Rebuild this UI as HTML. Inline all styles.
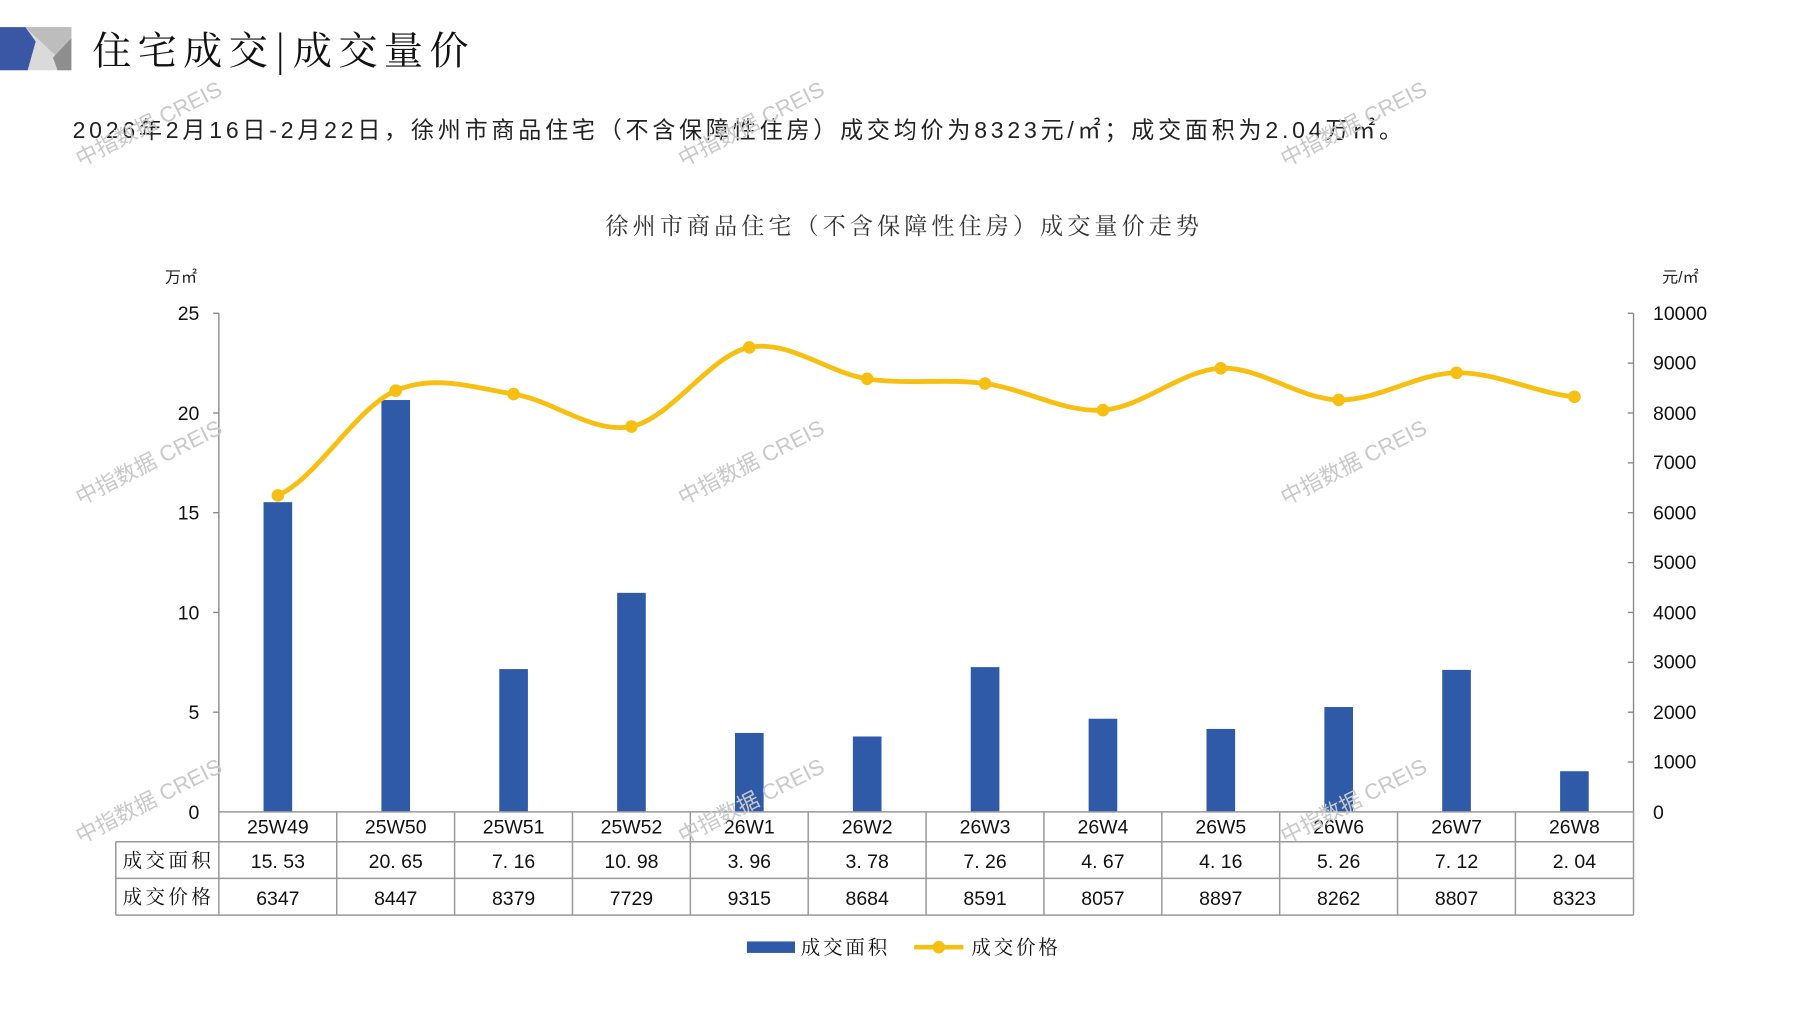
<!DOCTYPE html>
<html><head><meta charset="utf-8"><style>
html,body{margin:0;padding:0;background:#fff;}
svg{display:block;}
text{font-family:"Liberation Sans","Noto Sans CJK SC",sans-serif;}
.s{font-family:"Noto Serif CJK SC","Noto Sans CJK SC",serif;}
.wm{font-family:"Liberation Sans","Noto Sans CJK SC",sans-serif;fill:#c8c8c8;font-size:19px;}
</style></head><body>
<svg width="1797" height="1010" viewBox="0 0 1560 877" preserveAspectRatio="none" xmlns="http://www.w3.org/2000/svg">
<rect width="1560" height="877" fill="#fff"/>
<!-- logo -->
<rect x="0" y="23.5" width="62" height="37.5" fill="#dadada"/>
<polygon points="22,23.5 62,23.5 62,33 48,48" fill="#bdbdbd"/>
<polygon points="62,33 62,61 50,61 46,50" fill="#8e8e8e"/>
<polygon points="0,23.5 22,23.5 31,36 24,61 0,61" fill="#3a57a6"/>
<text x="80" y="56" class="s" font-size="34" fill="#111" letter-spacing="5.5">住宅成交|成交量价</text>
<text x="63" y="120" font-size="20" fill="#222" letter-spacing="3.3">2026年2月16日-2月22日，徐州市商品住宅（不含保障性住房）成交均价为8323元/㎡；成交面积为2.04万㎡。</text>
<text x="785" y="203" class="s" font-size="20" fill="#333" text-anchor="middle" letter-spacing="3.6">徐州市商品住宅（不含保障性住房）成交量价走势</text>
<g transform="translate(190,272) scale(0.9944,0.9954) translate(-190,-272)">
<text x="143" y="245" font-size="14" fill="#222">万㎡</text>
<text x="1450" y="245" font-size="14" fill="#222">元/㎡</text>
<!-- axes -->
<g stroke="#888" stroke-width="1.2" fill="none">
<line x1="190" y1="272" x2="190" y2="707"/>
<line x1="1425" y1="272" x2="1425" y2="707"/>
<line x1="185" y1="272" x2="190" y2="272"/><line x1="185" y1="359" x2="190" y2="359"/><line x1="185" y1="446" x2="190" y2="446"/><line x1="185" y1="533" x2="190" y2="533"/><line x1="185" y1="620" x2="190" y2="620"/>
<line x1="1420" y1="272" x2="1425" y2="272"/><line x1="1420" y1="315.5" x2="1425" y2="315.5"/><line x1="1420" y1="359" x2="1425" y2="359"/><line x1="1420" y1="402.5" x2="1425" y2="402.5"/><line x1="1420" y1="446" x2="1425" y2="446"/><line x1="1420" y1="489.5" x2="1425" y2="489.5"/><line x1="1420" y1="533" x2="1425" y2="533"/><line x1="1420" y1="576.5" x2="1425" y2="576.5"/><line x1="1420" y1="620" x2="1425" y2="620"/><line x1="1420" y1="663.5" x2="1425" y2="663.5"/>
</g>
<g font-size="17" fill="#111" text-anchor="end">
<text x="173" y="278">25</text><text x="173" y="365">20</text><text x="173" y="452">15</text><text x="173" y="539">10</text><text x="173" y="626">5</text><text x="173" y="713">0</text>
</g>
<g font-size="17" fill="#111">
<text x="1442" y="278">10000</text><text x="1442" y="321">9000</text><text x="1442" y="365">8000</text><text x="1442" y="408">7000</text><text x="1442" y="452">6000</text><text x="1442" y="495">5000</text><text x="1442" y="539">4000</text><text x="1442" y="582">3000</text><text x="1442" y="626">2000</text><text x="1442" y="669">1000</text><text x="1442" y="713">0</text>
</g>
<!-- bars -->
<g fill="#2e5aa8">
<rect x="229" y="436.8" width="25" height="270.2"/>
<rect x="331.9" y="347.7" width="25" height="359.3"/>
<rect x="434.8" y="582.4" width="25" height="124.6"/>
<rect x="537.7" y="515.9" width="25" height="191.1"/>
<rect x="640.6" y="638.1" width="25" height="68.9"/>
<rect x="743.5" y="641.2" width="25" height="65.8"/>
<rect x="846.4" y="580.7" width="25" height="126.3"/>
<rect x="949.3" y="625.7" width="25" height="81.3"/>
<rect x="1052.2" y="634.6" width="25" height="72.4"/>
<rect x="1155.1" y="615.5" width="25" height="91.5"/>
<rect x="1258" y="583.1" width="25" height="123.9"/>
<rect x="1360.9" y="671.5" width="25" height="35.5"/>
</g>
<!-- line -->
<path d="M241.5,430.9 C275.8,415.7 310.1,354.2 344.4,339.5 C378.7,324.8 413,337.3 447.3,342.5 C481.6,347.7 515.9,377.6 550.2,370.8 C584.5,364 618.8,308.7 653.1,301.8 C687.4,294.9 721.7,323.95 756,329.2 C790.3,334.45 824.6,328.75 858.9,333.3 C893.2,337.85 927.5,358.7 961.8,356.5 C996.1,354.3 1030.4,321.5 1064.7,320 C1099,318.5 1133.3,346.95 1167.6,347.6 C1201.9,348.25 1236.2,324.35 1270.5,323.9 C1304.8,323.45 1339.1,341.4 1373.4,344.9" fill="none" stroke="#f7bf12" stroke-width="4.2" stroke-linecap="round"/>
<g fill="#f7bf12">
<circle cx="241.5" cy="430.9" r="5.5"/><circle cx="344.4" cy="339.5" r="5.5"/><circle cx="447.3" cy="342.5" r="5.5"/><circle cx="550.2" cy="370.8" r="5.5"/><circle cx="653.1" cy="301.8" r="5.5"/><circle cx="756" cy="329.2" r="5.5"/><circle cx="858.9" cy="333.3" r="5.5"/><circle cx="961.8" cy="356.5" r="5.5"/><circle cx="1064.7" cy="320" r="5.5"/><circle cx="1167.6" cy="347.6" r="5.5"/><circle cx="1270.5" cy="323.9" r="5.5"/><circle cx="1373.4" cy="344.9" r="5.5"/>
</g>
<!-- table -->
<g stroke="#999" stroke-width="1.3" fill="none">
<line x1="190" y1="707" x2="1425" y2="707"/>
<line x1="100" y1="733" x2="1425" y2="733"/>
<line x1="100" y1="765" x2="1425" y2="765"/>
<line x1="100" y1="797" x2="1425" y2="797"/>
<line x1="100" y1="733" x2="100" y2="797"/>
<line x1="190" y1="707" x2="190" y2="797"/>
<line x1="292.9" y1="707" x2="292.9" y2="797"/><line x1="395.8" y1="707" x2="395.8" y2="797"/><line x1="498.7" y1="707" x2="498.7" y2="797"/><line x1="601.6" y1="707" x2="601.6" y2="797"/><line x1="704.5" y1="707" x2="704.5" y2="797"/><line x1="807.4" y1="707" x2="807.4" y2="797"/><line x1="910.3" y1="707" x2="910.3" y2="797"/><line x1="1013.2" y1="707" x2="1013.2" y2="797"/><line x1="1116.1" y1="707" x2="1116.1" y2="797"/><line x1="1219" y1="707" x2="1219" y2="797"/><line x1="1321.9" y1="707" x2="1321.9" y2="797"/><line x1="1425" y1="707" x2="1425" y2="797"/>
</g>
<g font-size="17" fill="#111" text-anchor="middle">
<text x="241.5" y="726">25W49</text><text x="344.4" y="726">25W50</text><text x="447.3" y="726">25W51</text><text x="550.2" y="726">25W52</text><text x="653.1" y="726">26W1</text><text x="756" y="726">26W2</text><text x="858.9" y="726">26W3</text><text x="961.8" y="726">26W4</text><text x="1064.7" y="726">26W5</text><text x="1167.6" y="726">26W6</text><text x="1270.5" y="726">26W7</text><text x="1373.4" y="726">26W8</text>
<text x="241.5" y="756">15. 53</text><text x="344.4" y="756">20. 65</text><text x="447.3" y="756">7. 16</text><text x="550.2" y="756">10. 98</text><text x="653.1" y="756">3. 96</text><text x="756" y="756">3. 78</text><text x="858.9" y="756">7. 26</text><text x="961.8" y="756">4. 67</text><text x="1064.7" y="756">4. 16</text><text x="1167.6" y="756">5. 26</text><text x="1270.5" y="756">7. 12</text><text x="1373.4" y="756">2. 04</text>
<text x="241.5" y="788">6347</text><text x="344.4" y="788">8447</text><text x="447.3" y="788">8379</text><text x="550.2" y="788">7729</text><text x="653.1" y="788">9315</text><text x="756" y="788">8684</text><text x="858.9" y="788">8591</text><text x="961.8" y="788">8057</text><text x="1064.7" y="788">8897</text><text x="1167.6" y="788">8262</text><text x="1270.5" y="788">8807</text><text x="1373.4" y="788">8323</text>
</g>
<text x="106" y="755" class="s" font-size="17" fill="#111" letter-spacing="3">成交面积</text>
<text x="106" y="787" class="s" font-size="17" fill="#111" letter-spacing="3">成交价格</text>
<!-- legend -->
<rect x="651" y="820" width="42" height="10" fill="#2e5aa8"/>
<text x="698" y="831" class="s" font-size="17" fill="#111" letter-spacing="2.5">成交面积</text>
<line x1="797" y1="825" x2="840" y2="825" stroke="#f7bf12" stroke-width="4"/>
<circle cx="818.5" cy="825" r="5.5" fill="#f7bf12"/>
<text x="847" y="831" class="s" font-size="17" fill="#111" letter-spacing="2.5">成交价格</text>
</g>
<!-- watermarks -->
<g class="wm">
<text transform="translate(70,145) rotate(-27)">中指数据 CREIS</text>
<text transform="translate(593,145) rotate(-27)">中指数据 CREIS</text>
<text transform="translate(1116,145) rotate(-27)">中指数据 CREIS</text>
<text transform="translate(70,439) rotate(-27)">中指数据 CREIS</text>
<text transform="translate(593,439) rotate(-27)">中指数据 CREIS</text>
<text transform="translate(1116,439) rotate(-27)">中指数据 CREIS</text>
<text transform="translate(70,733) rotate(-27)">中指数据 CREIS</text>
<text transform="translate(593,733) rotate(-27)">中指数据 CREIS</text>
<text transform="translate(1116,733) rotate(-27)">中指数据 CREIS</text>
</g>
</svg>
</body></html>
